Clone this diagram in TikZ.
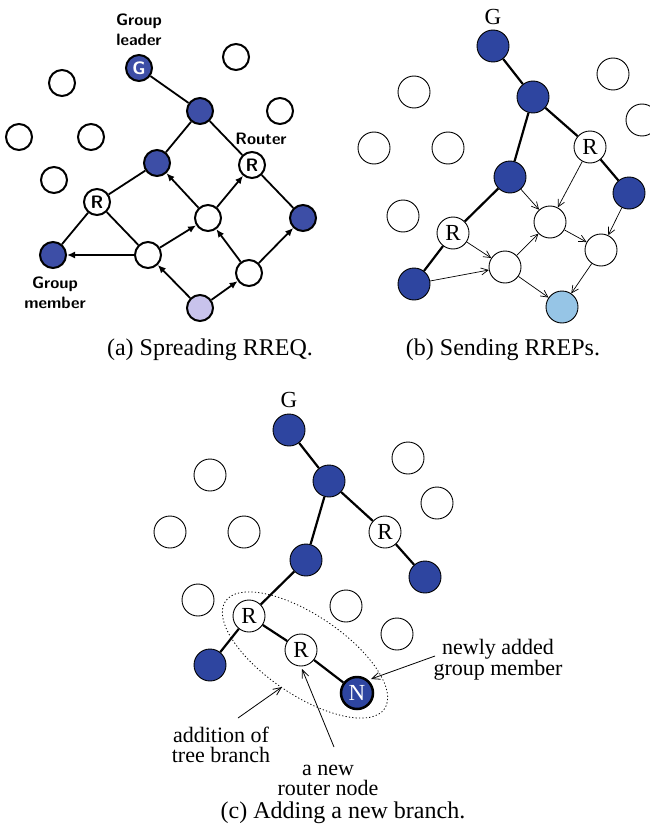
\documentclass[tikz,border=0pt]{standalone}
\usepackage{fontspec}
\setmainfont{Liberation Serif}
\usetikzlibrary{arrows.meta}
\definecolor{memberA}{HTML}{3D4EA6}
\definecolor{memberB}{HTML}{2E45A0}
\definecolor{lavender}{HTML}{C8C3EC}
\definecolor{skyblue}{HTML}{96C5E6}
\tikzset{
  % panel (a): bold outlines, sans labels
  anode/.style={circle, draw, line width=2pt, minimum size=26pt, inner sep=0pt, fill=white,
    font=\sffamily\bfseries\fontsize{18}{18}\selectfont},
  amember/.style={anode, fill=memberA, text=white},
  asrc/.style={anode, fill=lavender},
  alabel/.style={font=\sffamily\bfseries\fontsize{16.5}{20}\selectfont, align=center, inner sep=0pt},
  aedge/.style={line width=1.8pt},
  aarrow/.style={line width=1.8pt, -{Latex[length=8pt,width=7pt]}},
  % panels (b) and (c): thin outlines, serif labels
  bnode/.style={circle, draw, line width=0.9pt, minimum size=32pt, inner sep=0pt, fill=white,
    font=\fontsize{23}{23}\selectfont},
  bmember/.style={bnode, fill=memberB},
  bdst/.style={bnode, fill=skyblue},
  bedge/.style={line width=2.2pt},
  barrow/.style={line width=0.7pt, -{Straight Barb[length=7pt,width=7pt,line width=0.7pt]}},
  note/.style={font=\fontsize{22}{20}\selectfont, align=center, inner sep=0pt},
  notearrow/.style={line width=0.8pt, -{Straight Barb[length=8pt,width=7pt,line width=0.8pt]}},
  caption/.style={font=\fontsize{24}{24}\selectfont, inner sep=0pt},
  glabel/.style={font=\fontsize{23}{23}\selectfont, inner sep=0pt},
  branchring/.style={line width=0.8pt, dash pattern=on 1.2pt off 2.2pt},
}
\begin{document}
\begin{tikzpicture}[x=1pt, y=-1pt]
\useasboundingbox (0,0) rectangle (649,832);

% ---------- (a) Spreading RREQ ----------
\node[alabel] (a-lead) at (139,30) {Group\\leader};
\node[alabel] (a-rout) at (261,139) {Router};
\node[alabel] (a-memb) at (55,293) {Group\\member};

\node[amember] (a-g) at (139,68) {G};
\node[anode] (a-e1) at (236,57) {};
\node[anode] (a-e2) at (62,83) {};
\node[anode] (a-e3) at (280,111) {};
\node[anode] (a-e4) at (19,137) {};
\node[anode] (a-e5) at (91,137) {};
\node[anode] (a-e6) at (54,180) {};
\node[amember] (a-b1) at (200,111) {};
\node[amember] (a-b2) at (157,163) {};
\node[amember] (a-b3) at (303,218) {};
\node[amember] (a-bm) at (53,255) {};
\node[anode] (a-r1) at (97,202) {R};
\node[anode] (a-r2) at (252,165) {R};
\node[anode] (a-w1) at (208,218) {};
\node[anode] (a-w2) at (148,255) {};
\node[anode] (a-w3) at (249,273) {};
\node[asrc] (a-src) at (200,308) {};

\draw[aedge] (a-g) -- (a-b1);
\draw[aedge] (a-b1) -- (a-r2);
\draw[aedge] (a-b1) -- (a-b2);
\draw[aedge] (a-b2) -- (a-r1);
\draw[aedge] (a-r1) -- (a-bm);
\draw[aedge] (a-r1) -- (a-w2);
\draw[aedge] (a-r2) -- (a-b3);
\draw[aarrow] (a-w2) -- (a-bm);
\draw[aarrow] (a-w2) -- (a-w1);
\draw[aarrow] (a-w1) -- (a-b2);
\draw[aarrow] (a-w1) -- (a-r2);
\draw[aarrow] (a-src) -- (a-w2);
\draw[aarrow] (a-src) -- (a-w3);
\draw[aarrow] (a-w3) -- (a-w1);
\draw[aarrow] (a-w3) -- (a-b3);

\node[caption] (a-cap) at (210,350) {(a) Spreading RREQ.};

% ---------- (b) Sending RREPs ----------
\node[glabel] (b-glab) at (493,17) {G};
\node[bmember] (b-g) at (493,46) {};
\node[bmember] (b-b2) at (533,97) {};
\node[bnode] (b-e1) at (414,92) {};
\node[bnode] (b-e2) at (613,74) {};
\node[bnode] (b-e3) at (642,120) {};
\node[bnode] (b-e4) at (374,148) {};
\node[bnode] (b-e5) at (448,148) {};
\node[bnode] (b-e6) at (403,216) {};
\node[bnode] (b-r1) at (590,147) {R};
\node[bmember] (b-b3) at (510,177) {};
\node[bmember] (b-b4) at (629,193) {};
\node[bnode] (b-r2) at (453,233) {R};
\node[bnode] (b-w1) at (550,222) {};
\node[bnode] (b-w2) at (601,250) {};
\node[bnode] (b-w3) at (505,267) {};
\node[bmember] (b-b5) at (414,284) {};
\node[bdst] (b-dst) at (562,307) {};

\draw[bedge] (b-g) -- (b-b2);
\draw[bedge] (b-b2) -- (b-b3);
\draw[bedge] (b-b2) -- (b-r1);
\draw[bedge] (b-r1) -- (b-b4);
\draw[bedge] (b-b3) -- (b-r2);
\draw[bedge] (b-r2) -- (b-b5);
\draw[barrow] (b-b3) -- (b-w1);
\draw[barrow] (b-r1) -- (b-w1);
\draw[barrow] (b-b4) -- (b-w2);
\draw[barrow] (b-w1) -- (b-w2);
\draw[barrow] (b-r2) -- (b-w3);
\draw[barrow] (b-b5) -- (b-w3);
\draw[barrow] (b-w3) -- (b-w1);
\draw[barrow] (b-w3) -- (b-dst);
\draw[barrow] (b-w2) -- (b-dst);

\node[caption] (b-cap) at (503,350) {(b) Sending RREPs.};

% ---------- (c) Adding a new branch ----------
\node[glabel] (c-glab) at (289,400) {G};
\node[bmember] (c-g) at (289,430) {};
\node[bmember] (c-b2) at (329,481) {};
\node[bnode] (c-e1) at (210,475) {};
\node[bnode] (c-e2) at (408,458) {};
\node[bnode] (c-e3) at (437,503) {};
\node[bnode] (c-e4) at (170,532) {};
\node[bnode] (c-e5) at (244,532) {};
\node[bnode] (c-e6) at (198,600) {};
\node[bnode] (c-e7) at (346,606) {};
\node[bnode] (c-e8) at (397,634) {};
\node[bnode] (c-r1) at (385,532) {R};
\node[bmember] (c-b3) at (306,560) {};
\node[bmember] (c-b4) at (425,577) {};
\node[bnode] (c-r2) at (249,616) {R};
\node[bnode] (c-r3) at (301,650) {R};
\node[bmember] (c-b5) at (210,665) {};
\node[bmember, line width=2.5pt, text=white] (c-n) at (357,693) {N};

\draw[bedge] (c-g) -- (c-b2);
\draw[bedge] (c-b2) -- (c-b3);
\draw[bedge] (c-b2) -- (c-r1);
\draw[bedge] (c-r1) -- (c-b4);
\draw[bedge] (c-b3) -- (c-r2);
\draw[bedge] (c-r2) -- (c-b5);
\draw[bedge] (c-r2) -- (c-r3);
\draw[bedge] (c-r3) -- (c-n);

% the new branch, circled
\draw[branchring, rotate around={-34:(305,655)}] (305,655) ellipse [x radius=96, y radius=40];

\node[note] (c-newm) at (498,660) {newly added\\group member};
\node[note] (c-addb) at (221,745) {addition of\\tree branch};
\node[note] (c-newr) at (328,780) {a new\\router node};
\coordinate (c-newm-a) at (435,656);
\coordinate (c-newm-b) at (371,679);
\coordinate (c-addb-a) at (238,718);
\coordinate (c-addb-b) at (282,687);
\coordinate (c-newr-a) at (334,747);
\coordinate (c-newr-b) at (302,669);
\draw[notearrow] (c-newm-a) -- (c-newm-b);
\draw[notearrow] (c-addb-a) -- (c-addb-b);
\draw[notearrow] (c-newr-a) -- (c-newr-b);

\node[caption] (c-cap) at (343,813) {(c) Adding a new branch.};
\end{tikzpicture}
\end{document}
